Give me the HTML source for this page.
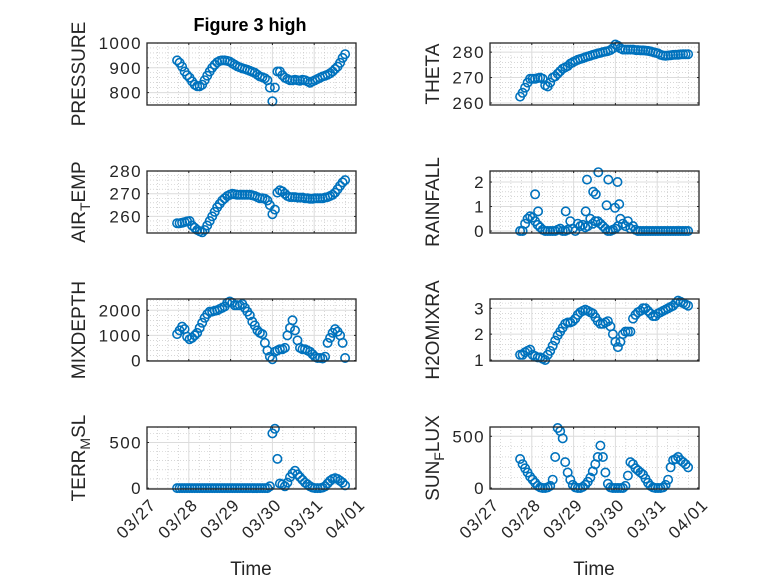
<!DOCTYPE html>
<html><head><meta charset="utf-8"><style>
html,body{margin:0;padding:0;background:#fff;}
svg{display:block;font-family:"Liberation Sans",sans-serif;}
</style></head><body>
<svg id="fig" width="778" height="583" viewBox="0 0 778 583" xmlns="http://www.w3.org/2000/svg">
<rect width="778" height="583" fill="#fff"/>
<text x="250" y="31" text-anchor="middle" font-size="18" font-weight="bold" fill="#000">Figure 3 high</text>
<text x="251" y="575" text-anchor="middle" font-size="19" fill="#262626">Time</text>
<text x="594" y="575" text-anchor="middle" font-size="19" fill="#262626">Time</text>
</svg>
<script>
const xTickLabels = ["03/27","03/28","03/29","03/30","03/31","04/01"];
const times = [0.72,0.78,0.84,0.90,0.96,1.02,1.08,1.14,1.20,1.26,1.32,1.38,1.44,1.50,1.56,1.62,1.68,1.74,1.80,1.86,1.92,1.98,2.04,2.10,2.16,2.22,2.28,2.34,2.40,2.46,2.52,2.58,2.64,2.70,2.76,2.82,2.88,2.94,3.00,3.06,3.12,3.18,3.24,3.30,3.36,3.42,3.48,3.54,3.60,3.66,3.72,3.78,3.84,3.90,3.96,4.02,4.08,4.14,4.20,4.26,4.32,4.38,4.44,4.50,4.56,4.62,4.68,4.74];
const pressure = [930,920,905,885,870,860,845,832,826,826,832,850,868,885,900,912,922,928,930,930,928,925,918,912,906,902,898,895,892,888,884,880,872,865,862,858,850,820,765,820,885,885,870,860,855,850,850,852,850,848,852,850,845,840,845,850,855,860,865,868,872,878,885,895,905,920,940,955];
const theta = [262.5,264,266,268,269.5,269.5,269.5,269.8,270,269.5,267,266.5,268,270,270.5,271.5,272.5,273.5,274,274.5,275.5,276,276.5,277,277.3,277.6,278,278.3,278.6,278.9,279.2,279.5,279.7,280,280.2,280.4,280.8,281.5,283,282.5,281.5,281,281,281,281,281,280.8,280.8,280.7,280.7,280.6,280.5,280.3,280,279.8,279.5,279,278.7,278.6,278.7,278.8,278.9,279,279,279.1,279.2,279.2,279.2];
const airTemp = [257,257,257.2,257.5,257.8,258,256,255,254,253.5,253,254,256,258,260,262,264,265.5,267,268,269,269.5,270,269.8,269.5,269.5,269.5,269.5,269.5,269.5,269.3,269,268.5,268,268,267.8,267,265,261,263,270.5,271.5,271,270,269,268.5,268.5,268.5,268.3,268.3,268.3,268,268,267.8,267.8,268,268,268,268,268.3,268.5,269,269.5,270.5,272,273.5,275,276];
const rainfall = [0,0,0.3,0.5,0.6,0.55,0.4,0.25,0.15,0.05,0,0,0,0,0,0.05,0.1,0,0,0.05,0.4,0.1,0,0.3,0.2,0.25,0.15,0.2,0.5,0.3,0.4,0.4,0.3,0.2,0.1,0,0,0.05,0.1,0.2,0.5,0.3,0.2,0.4,0.1,0.2,0.05,0,0,0,0,0,0,0,0,0,0,0,0,0,0,0,0,0,0,0,0,0];
const rainSpikeTimes = [1.08,1.15,1.81,2.29,2.32,2.47,2.53,2.59,2.79,2.83,2.99,3.05,3.09];
const rainSpikes = [1.5,0.8,0.8,0.8,2.1,1.6,1.5,2.4,1.05,2.1,0.95,2.0,1.1];
const mixDepth = [1050,1200,1350,1250,950,850,900,1000,1100,1300,1500,1700,1850,1950,1950,1980,2000,2050,2100,2150,2300,2350,2300,2200,2200,2200,2250,2100,1950,1800,1550,1400,1200,1100,1050,700,400,150,50,350,400,450,450,500,1000,1300,1600,1200,800,500,450,450,400,350,250,150,100,100,80,150,700,900,1100,1250,1150,1000,700,100];
const h2oMixRa = [1.2,1.2,1.3,1.35,1.4,1.2,1.15,1.1,1.1,1.05,1.0,1.2,1.35,1.55,1.75,1.95,2.1,2.25,2.4,2.45,2.45,2.5,2.6,2.75,2.85,2.9,2.95,2.9,2.85,2.8,2.65,2.5,2.4,2.4,2.45,2.5,2.3,2.0,1.7,1.5,1.7,2.0,2.1,2.1,2.1,2.6,2.75,2.85,2.9,3.0,3.0,2.9,2.8,2.7,2.7,2.8,2.85,2.9,2.95,3.0,3.05,3.1,3.2,3.3,3.25,3.2,3.15,3.1];
const terrMsl = [0,0,0,0,0,0,0,0,0,0,0,0,0,0,0,0,0,0,0,0,0,0,0,0,0,0,0,0,0,0,0,0,0,0,0,0,0,20,600,650,320,50,40,20,60,120,160,190,150,120,90,60,40,20,5,0,0,0,5,20,50,80,100,110,100,80,60,30];
const sunFlux = [280,230,190,150,110,80,50,20,5,0,0,5,20,80,300,580,550,480,250,150,80,30,5,0,0,10,30,60,100,160,230,300,410,300,150,40,5,0,0,0,0,0,20,120,250,230,190,170,150,130,90,50,20,5,0,0,0,5,30,80,200,270,280,300,270,250,230,200];
const pTicks=[800,900,1000], thTicks=[260,270,280], atTicks=[260,270,280], rfTicks=[0,1,2], mdTicks=[0,1000,2000], h2Ticks=[1,2,3], trTicks=[0,500], sfTicks=[0,500];

const svg=document.getElementById('fig');
const NS='http://www.w3.org/2000/svg';
function el(tag,attrs,parent){const e=document.createElementNS(NS,tag);for(const k in attrs)e.setAttribute(k,attrs[k]);(parent||svg).appendChild(e);return e;}
const colX=[147,490], rowY=[43,171,299,427], W=209, H=62;
const BLUE='#0072BD', AX='#262626';

function panel(name,col,row,ymin,ymax,ticks,minorStep,label,series,showX){
  const x0=colX[col], y0=rowY[row];
  const g=el('g',{});
  
  
  const sx=d=>x0+d/5*W;
  const sy=v=>y0+H-(v-ymin)/(ymax-ymin)*H;
  for(let d=0;d<=5;d+=0.25){ if(Math.abs(d-Math.round(d))<1e-6) continue;
    el('line',{x1:sx(d),x2:sx(d),y1:y0,y2:y0+H,stroke:'#bdbdbd','stroke-width':0.6,'stroke-dasharray':'1 2'},g);}
  const start=Math.ceil(ymin/minorStep)*minorStep;
  for(let v=start;v<=ymax;v+=minorStep){ if(ticks.some(t=>Math.abs(t-v)<1e-9)) continue;
    el('line',{x1:x0,x2:x0+W,y1:sy(v),y2:sy(v),stroke:'#bdbdbd','stroke-width':0.6,'stroke-dasharray':'1 2'},g);}
  for(let d=1;d<5;d++) el('line',{x1:sx(d),x2:sx(d),y1:y0,y2:y0+H,stroke:'#dcdcdc','stroke-width':1},g);
  ticks.forEach(t=>{el('line',{x1:x0,x2:x0+W,y1:sy(t),y2:sy(t),stroke:'#dcdcdc','stroke-width':1},g);});
  for(let d=0;d<=5;d++){el('line',{x1:sx(d),x2:sx(d),y1:y0+H,y2:y0+H-2,stroke:AX},g);el('line',{x1:sx(d),x2:sx(d),y1:y0,y2:y0+2,stroke:AX},g);}
  ticks.forEach(t=>{
    el('line',{x1:x0,x2:x0+2,y1:sy(t),y2:sy(t),stroke:AX},g);
    el('line',{x1:x0+W,x2:x0+W-2,y1:sy(t),y2:sy(t),stroke:AX},g);
    const tl=el('text',{x:x0-5,y:sy(t)+6,'text-anchor':'end','font-size':17,'letter-spacing':1.4,fill:AX},g);
    
    
    tl.textContent=t;
  });
  const clipId='clip-'+name;
  const cp=el('clipPath',{id:clipId},g); el('rect',{x:x0-6,y:y0-7,width:W+12,height:H+14},cp);
  const sg=el('g',{'clip-path':'url(#'+clipId+')'},g);
  series.forEach(s=>{
    s.t.forEach((d,i)=>{
      const c=el('circle',{cx:sx(d).toFixed(1),cy:sy(s.v[i]).toFixed(1),r:4.2,fill:'none',stroke:BLUE,'stroke-width':1.6},sg);
      
      
    });
  });
  const box=el('rect',{x:x0,y:y0,width:W,height:H,fill:'none',stroke:AX,'stroke-width':1.3},g);
  
  
  const lx=col===0?85:439;
  const yl=el('text',{x:0,y:0,'text-anchor':'middle','font-size':19,fill:AX,transform:'translate('+lx+','+(y0+H/2)+') rotate(-90)'},g);
  
  
  label.forEach(p=>{const ts=el('tspan',p.sub?{'font-size':14,dy:5}:(p.after?{dy:-5}:{}),yl);ts.textContent=p.s;});
  if(showX){
    xTickLabels.forEach((lab,d)=>{
      const px=sx(d)+10, py=y0+H+17;
      const t=el('text',{x:px,y:py,'text-anchor':'end','font-size':17,'letter-spacing':1,fill:AX,transform:'rotate(-45 '+px+' '+py+')'},g);
      
      
      t.textContent=lab;
    });
  }
}
panel('pressure',0,0,750,1000,pTicks,20,[{s:'PRESSURE'}],[{t:times,v:pressure}],false);
panel('theta',1,0,259.2,283.6,thTicks,2,[{s:'THETA'}],[{t:times,v:theta}],false);
panel('air-temp',0,1,252.7,280,atTicks,2,[{s:'AIR'},{s:'T',sub:true},{s:'EMP',after:true}],[{t:times,v:airTemp}],false);
panel('rainfall',1,1,-0.08,2.45,rfTicks,0.2,[{s:'RAINFALL'}],[{t:times,v:rainfall},{t:rainSpikeTimes,v:rainSpikes}],false);
panel('mixdepth',0,2,-20,2450,mdTicks,200,[{s:'MIXDEPTH'}],[{t:times,v:mixDepth}],false);
panel('h2omixra',1,2,0.96,3.36,h2Ticks,0.2,[{s:'H2OMIXRA'}],[{t:times,v:h2oMixRa}],false);
panel('terr-msl',0,3,-10,670,trTicks,100,[{s:'TERR'},{s:'M',sub:true},{s:'SL',after:true}],[{t:times,v:terrMsl}],true);
panel('sun-flux',1,3,-10,590,sfTicks,100,[{s:'SUN'},{s:'F',sub:true},{s:'LUX',after:true}],[{t:times,v:sunFlux}],true);
</script>
</body></html>
